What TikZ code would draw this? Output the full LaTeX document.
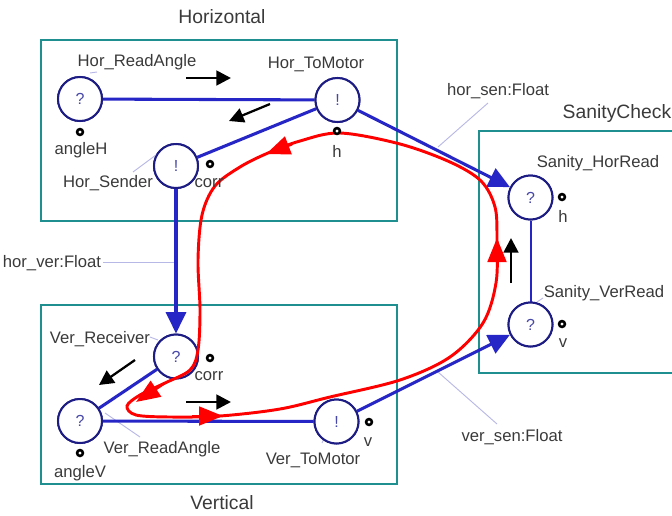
\documentclass[tikz,border=0pt]{standalone}
\usepackage{fontspec}
\setmainfont{Liberation Sans}
\usepackage{xcolor}
\usetikzlibrary{arrows.meta, positioning}

\definecolor{boxteal}{HTML}{1F8F8F}
\definecolor{portnavy}{HTML}{1C1C84}
\definecolor{linkblue}{HTML}{2626C6}
\definecolor{marknavy}{HTML}{4848A8}
\definecolor{labelgray}{HTML}{3A3A3A}
\definecolor{leadlav}{HTML}{B8B8E6}

\tikzset{
    port/.style={circle, draw=portnavy, line width=1.5pt, fill=white, minimum size=33pt,
        inner sep=0pt, text=marknavy, font=\fontsize{12}{12}\selectfont},
    pin/.style={circle, draw=black, line width=1.9pt, fill=white, minimum size=4.4pt, inner sep=0pt},
    lbl/.style={text=labelgray, font=\fontsize{12.5}{14}\selectfont, inner sep=0pt},
    ttl/.style={text=labelgray, font=\fontsize{14.5}{16}\selectfont, inner sep=0pt},
    group/.style={draw=boxteal, line width=1.8pt},
    link/.style={draw=linkblue, line width=2.3pt},
    linkarrow/.style={link, -{Triangle[length=16pt, width=15pt]}},
    leader/.style={draw=leadlav, line width=0.7pt},
    flow/.style={draw=black, line width=2.1pt, -{Triangle[length=11pt, width=11pt]}},
    redloop/.style={draw=red, line width=2.2pt},
    redtip/.style={draw=red, fill=red, line width=2.2pt, -{Triangle[length=18pt, width=14pt]}}
}

\begin{document}
\begin{tikzpicture}[x=0.75pt, y=-0.75pt]
    \useasboundingbox (0,0) rectangle (672,515);
    \clip (0,0) rectangle (672,515);

    % 1. Group boxes and their titles
    \draw[group] (41,40) rectangle (397,221);
    \draw[group] (41,305) rectangle (397,484);
    \draw[group] (479,131) rectangle (690,373);
    \node[ttl] (tHor) at (222,17) {Horizontal};
    \node[ttl] (tVer) at (222,503) {Vertical};
    \node[ttl] (tSan) at (617,113) {SanityCheck};

    % 2. Ports
    \node[port] (hra) at (80,99) {?};
    \node[port] (htm) at (337.5,100) {!};
    \node[port] (hsd) at (176,166) {!};
    \node[port] (vrc) at (176,356.5) {?};
    \node[port] (vra) at (80,421) {?};
    \node[port] (vtm) at (336.5,421.5) {!};
    \node[port] (shr) at (530.5,197.5) {?};
    \node[port] (svr) at (530.5,324.5) {?};

    % 3. Thin leader lines of the labels
    \draw[leader] (90,73) -- (97,72);
    \draw[leader] (133,172) -- (160,152);
    \draw[leader] (150,337) -- (158,340);
    \draw[leader] (105,413) -- (140,437);
    \draw[leader] (340,402) -- (322,443);
    \draw[leader] (537,302) -- (543,298);
    \draw[leader] (488,103) -- (438,147);
    \draw[leader] (103,262) -- (176,262);
    \draw[leader] (438,372) -- (497,424);

    % 4. Blue links between the ports
    \draw[link] (hra) -- (htm);
    \draw[link] (htm) -- (hsd);
    \draw[linkarrow] (hsd) -- (vrc);
    \draw[linkarrow] (htm) -- (shr);
    \draw[link] (vrc) -- (vra);
    \draw[link] (vra) -- (vtm);
    \draw[linkarrow] (vtm) -- (svr);
    \draw[draw=linkblue, line width=1.5pt] (shr) -- (svr);

    % redraw the ports on top of the links
    \foreach \p/\q/\s in {hra/{80,99}/?, htm/{337.5,100}/!, hsd/{176,166}/!, vrc/{176,356.5}/?,
        vra/{80,421}/?, vtm/{336.5,421.5}/!, shr/{530.5,197.5}/?, svr/{530.5,324.5}/?}
        \node[port] at (\q) {\s};

    % 5. Red loop
    \draw[redloop] plot[smooth cycle, tension=0.55] coordinates {
        (340,133) (300,141) (268,153) (240,167) (215,186) (202,215) (198,260)
        (200,310) (198,350) (190,370) (165,383) (140,395) (127,406) (136,415)
        (170,417) (220,416) (280,409) (330,397) (400,380) (450,357) (483,323)
        (496,283) (497,240) (495,207) (481,181) (450,162) (400,144)};
    \draw[redtip] (292,144) -- (266,154);
    \draw[redtip] (163,384) -- (136,402);
    \draw[redtip] (192,416) -- (223,416);
    \draw[redtip] (497,270) -- (497,238);

    % 6. Pins and their labels
    \node[pin] (pAngH) at (80,132) {};
    \node[pin] (pHtm) at (337,131) {};
    \node[pin] (pHsd) at (210,164) {};
    \node[pin] (pVrc) at (210,358) {};
    \node[pin] (pAngV) at (80,453) {};
    \node[pin] (pVtm) at (369,422) {};
    \node[pin] (pShr) at (562,197) {};
    \node[pin] (pSvr) at (562,324) {};
    \node[lbl] at (81,150) {angleH};
    \node[lbl] at (337,151) {h};
    \node[lbl] at (209,183) {corr};
    \node[lbl] at (209,376) {corr};
    \node[lbl] at (80,473) {angleV};
    \node[lbl] at (368,442) {v};
    \node[lbl] at (563,216) {h};
    \node[lbl] at (563,343) {v};

    % 7. Port names
    \node[lbl] at (137,62) {Hor\_ReadAngle};
    \node[lbl] at (316,64) {Hor\_ToMotor};
    \node[lbl] at (108,183) {Hor\_Sender};
    \node[lbl] at (100,339) {Ver\_Receiver};
    \node[lbl] at (162,449) {Ver\_ReadAngle};
    \node[lbl] at (313,460) {Ver\_ToMotor};
    \node[lbl] at (598,163) {Sanity\_HorRead};
    \node[lbl] at (604,293) {Sanity\_VerRead};

    % 8. Link names
    \node[lbl] at (498,91) {hor\_sen:Float};
    \node[lbl] at (52,263) {hor\_ver:Float};
    \node[lbl] at (512,437) {ver\_sen:Float};

    % 9. Black arrows showing the flow
    \draw[flow] (186,78) -- (231,78);
    \draw[flow, line width=1.7pt] (270,104) -- (229,121);
    \draw[flow, line width=1.7pt] (135,360) -- (99,385);
    \draw[flow] (186,402) -- (231,402);
    \draw[flow] (511,283) -- (511,238);
\end{tikzpicture}
\end{document}
